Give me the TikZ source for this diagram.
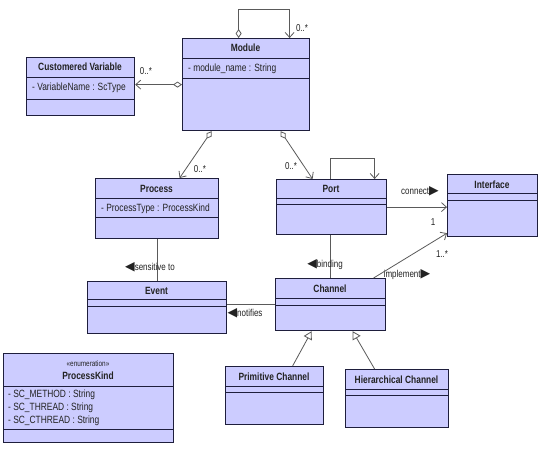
\documentclass[tikz,border=0pt]{standalone}
\usepackage{fontspec}
\setmainfont{Liberation Sans}[FakeStretch=0.8]
\newfontfamily\symf{DejaVu Sans}
\usetikzlibrary{arrows.meta}
\definecolor{clsfill}{HTML}{CCCCFF}
\definecolor{clsdraw}{HTML}{1E1E3C}
\definecolor{conncol}{HTML}{5A5A5A}
\definecolor{txt}{HTML}{222222}
\newcommand\rtri{{\symf\fontsize{12.5}{10}\selectfont ▶}}
\newcommand\ltri{{\symf\fontsize{12.5}{10}\selectfont ◀}}
\begin{document}
\begin{tikzpicture}[x=1pt,y=-1pt, font=\fontsize{10.5}{12}\selectfont,
  cls/.style={draw=clsdraw, fill=clsfill, line width=1.2pt, inner sep=0pt, anchor=north west},
  sepl/.style={draw=clsdraw, line width=0.9pt},
  ttl/.style={font=\fontsize{10.5}{12}\selectfont\bfseries, text=txt, inner sep=0pt},
  attr/.style={anchor=west, text=txt, inner sep=0pt},
  lbl/.style={text=txt, inner sep=0pt, font=\fontsize{10}{12}\selectfont},
  cline/.style={draw=conncol, line width=0.8pt},
  assoc/.style={cline, -{Straight Barb[length=5pt,width=9pt]}},
  agg/.style={cline, {Diamond[fill=white,length=9pt,width=6pt]}-{Straight Barb[length=5pt,width=9pt]}},
  gen/.style={cline, -{Triangle[fill=white,length=8pt,width=9pt]}}]
\fill[white] (0,0) rectangle (543,450);
\useasboundingbox (0,0) rectangle (543,450);

% ---------- classes ----------
\node[cls, minimum width=127pt, minimum height=92pt] (module) at (182,38) {};
\draw[sepl] (module.west |- 0,58) -- (module.east |- 0,58);
\draw[sepl] (module.west |- 0,78) -- (module.east |- 0,78);
\node[ttl] (moduleT) at (245.5,48) {Module};
\node[attr] (moduleA) at (188,68.5) {- module\_name : String};

\node[cls, minimum width=108pt, minimum height=58pt] (cv) at (26,57) {};
\draw[sepl] (cv.west |- 0,77) -- (cv.east |- 0,77);
\draw[sepl] (cv.west |- 0,99) -- (cv.east |- 0,99);
\node[ttl] (cvT) at (80,67) {Customered Variable};
\node[attr] (cvA) at (32,88) {- VariableName : ScType};

\node[cls, minimum width=123pt, minimum height=60pt] (process) at (95,178) {};
\draw[sepl] (process.west |- 0,198) -- (process.east |- 0,198);
\draw[sepl] (process.west |- 0,217) -- (process.east |- 0,217);
\node[ttl] (processT) at (156.5,189) {Process};
\node[attr] (processA) at (101,208.5) {- ProcessType : ProcessKind};

\node[cls, minimum width=110pt, minimum height=55pt] (port) at (276,179) {};
\draw[sepl] (port.west |- 0,198) -- (port.east |- 0,198);
\draw[sepl] (port.west |- 0,204) -- (port.east |- 0,204);
\node[ttl] (portT) at (331,189) {Port};

\node[cls, minimum width=90pt, minimum height=62pt] (interface) at (447,174) {};
\draw[sepl] (interface.west |- 0,193) -- (interface.east |- 0,193);
\draw[sepl] (interface.west |- 0,200) -- (interface.east |- 0,200);
\node[ttl] (interfaceT) at (492,184.5) {Interface};

\node[cls, minimum width=139pt, minimum height=52pt] (event) at (87,281) {};
\draw[sepl] (event.west |- 0,299) -- (event.east |- 0,299);
\draw[sepl] (event.west |- 0,306) -- (event.east |- 0,306);
\node[ttl] (eventT) at (156.5,291) {Event};

\node[cls, minimum width=110pt, minimum height=52pt] (channel) at (275,278) {};
\draw[sepl] (channel.west |- 0,298) -- (channel.east |- 0,298);
\draw[sepl] (channel.west |- 0,305) -- (channel.east |- 0,305);
\node[ttl] (channelT) at (330,289) {Channel};

\node[cls, minimum width=98pt, minimum height=58pt] (prim) at (225,366) {};
\draw[sepl] (prim.west |- 0,386) -- (prim.east |- 0,386);
\draw[sepl] (prim.west |- 0,392) -- (prim.east |- 0,392);
\node[ttl] (primT) at (274,376.5) {Primitive Channel};

\node[cls, minimum width=103pt, minimum height=58pt] (hier) at (345,369) {};
\draw[sepl] (hier.west |- 0,389) -- (hier.east |- 0,389);
\draw[sepl] (hier.west |- 0,395) -- (hier.east |- 0,395);
\node[ttl] (hierT) at (396.5,380) {Hierarchical Channel};

\node[cls, minimum width=170pt, minimum height=89pt] (pk) at (3,353) {};
\draw[sepl] (pk.west |- 0,386) -- (pk.east |- 0,386);
\draw[sepl] (pk.west |- 0,429) -- (pk.east |- 0,429);
\node[text=txt, inner sep=0pt, font=\fontsize{8}{9}\selectfont] (pkS) at (88,364) {«enumeration»};
\node[ttl] (pkT) at (88,376) {ProcessKind};
\node[attr] (pkA1) at (8,395) {- SC\_METHOD : String};
\node[attr] (pkA2) at (8,408) {- SC\_THREAD : String};
\node[attr] (pkA3) at (8,421) {- SC\_CTHREAD : String};

% ---------- connectors ----------
\draw[agg] ([xshift=-7.5pt]module.north) -- ++(0,-29) -| ([xshift=43.5pt]module.north);
\node[lbl] (l1) at (302,28) {0..*};

\draw[agg] (module.west) -- (cv.east |- module.west);
\node[lbl] (l2) at (146,71) {0..*};

\draw[agg] ([xshift=-34.5pt]module.south) -- ([xshift=22.5pt]process.north);
\node[lbl] (l3) at (200,169) {0..*};

\draw[agg] ([xshift=34.5pt]module.south) -- ([xshift=-19pt]port.north);
\node[lbl] (l4) at (291,166) {0..*};

\draw[assoc] ([xshift=-1pt]port.north) -- ++(0,-21) -| ([xshift=43pt]port.north);

\draw[assoc] (port.east) -- (interface.west |- port.east);
\node[lbl] (l5) at (420,191) {connect\rtri};
\node[lbl] (l6) at (433,222) {1};

\draw[cline] (port.south -| channel.north) -- (channel.north);
\node[lbl] (l7) at (325,265) {\ltri binding};

\draw[assoc] ([xshift=43pt]channel.north) -- ([yshift=4pt]interface.south west);
\node[lbl] (l8) at (442,254) {1..*};
\node[lbl] (l9) at (407,275) {implement\rtri};

\draw[cline] (channel.west) -- (event.east |- channel.west);
\node[lbl] (l10) at (245,313) {\ltri notifies};

\draw[cline] (process.south) -- (event.north -| process.south);
\node[lbl] (l11) at (150,267) {\ltri sensitive to};

\draw[gen] ([xshift=18pt]prim.north) -- ([xshift=-19pt]channel.south);
\draw[gen] ([xshift=-22.5pt]hier.north) -- ([xshift=22pt]channel.south);
\end{tikzpicture}
\end{document}
